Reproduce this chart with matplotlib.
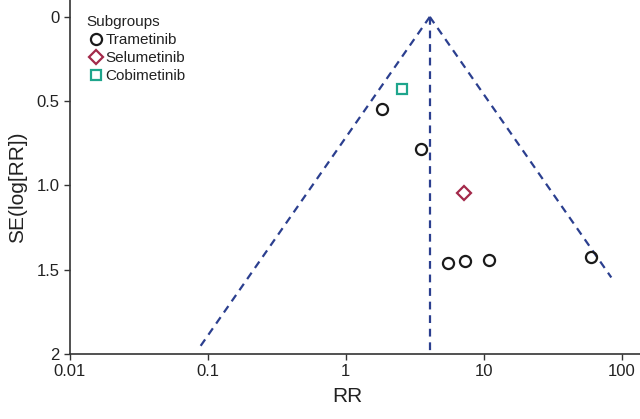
import numpy as np
import matplotlib
matplotlib.use("Agg")
import matplotlib.pyplot as plt

plt.rcParams['font.family'] = ['Liberation Sans', 'DejaVu Sans']

# study estimates
tram_rr = [1.82, 3.49, 5.48, 7.36, 10.9, 59.6]
tram_se = [0.547, 0.786, 1.463, 1.451, 1.44, 1.424]
selu_rr = [7.16]
selu_se = [1.045]
cobi_rr = [2.55]
cobi_se = [0.428]

pooled_rr = 4.06
left_se_max = 1.96
right_se_max = 1.546

xticks = [0.01, 0.1, 1, 10, 100]
xticklabels = ["0.01", "0.1", "1", "10", "100"]
yticks = [0, 0.5, 1.0, 1.5, 2]
yticklabels = ["0", "0.5", "1.0", "1.5", "2"]

navy = "#2b3f8f"
txt = '#222222'

fig = plt.figure(figsize=(6.4, 4.19), dpi=100)
ax = fig.add_axes([70 / 640, 1 - 354 / 419, 1 - 70 / 640, 354 / 419])

# funnel lines (pseudo 95% limits)
se_l = np.array([0, left_se_max])
se_r = np.array([0, right_se_max])
ax.plot(pooled_rr * np.exp(-1.96 * se_l), se_l, ls=(0, (3.5, 2.6)), color=navy, lw=1.6)
ax.plot(pooled_rr * np.exp(1.96 * se_r), se_r, ls=(0, (3.5, 2.6)), color=navy, lw=1.6)
ax.plot([pooled_rr, pooled_rr], [0, 2], ls=(0, (3.5, 2.6)), color=navy, lw=1.6)

ax.plot(tram_rr, tram_se, 'o', mfc='none', mec='#1a1a1a', mew=1.6, ms=8, label="Trametinib")
ax.plot(selu_rr, selu_se, 'D', mfc='none', mec='#a3294a', mew=1.6, ms=7.5, label="Selumetinib")
ax.plot(cobi_rr, cobi_se, 's', mfc='none', mec='#1ea58c', mew=1.6, ms=7, label="Cobimetinib")

ax.set_xscale('log')
ax.set_xlim(0.01, 10 ** (2 + 18.3 / 138))
ax.set_ylim(2, -0.1)
ax.set_xticks(xticks)
ax.set_xticklabels(xticklabels)
ax.minorticks_off()
ax.set_yticks(yticks)
ax.set_yticklabels(yticklabels)
ax.tick_params(labelsize=12, length=4, width=1, color='#333333', labelcolor=txt)

for s in ['top', 'right']:
    ax.spines[s].set_visible(False)
for s in ['left', 'bottom']:
    ax.spines[s].set_linewidth(1.2)
    ax.spines[s].set_color('#333333')

leg = ax.legend(title="Subgroups", loc='upper left',
                bbox_to_anchor=(79 / 640, 1 - 7 / 419), bbox_transform=fig.transFigure,
                frameon=False, fontsize=11, title_fontsize=11,
                handletextpad=0.05, handlelength=1.2, borderpad=0,
                labelspacing=0.28)
leg._legend_box.align = "left"
for t in leg.get_texts():
    t.set_color(txt)
leg.get_title().set_color(txt)

fig.text(347 / 640, 1 - 396 / 419, "RR", fontsize=15, ha='center', va='center', color=txt)
fig.text(18 / 640, 1 - 187 / 419, "SE(log[RR])", fontsize=15, rotation=90,
         ha='center', va='center', color=txt)

fig.savefig("out.png", dpi=100)
